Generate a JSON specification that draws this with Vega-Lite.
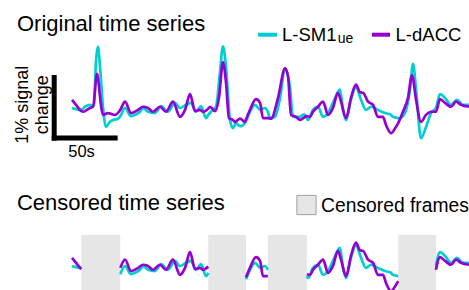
{
"$schema": "https://vega.github.io/schema/vega-lite/v6.json",
"width": 469, "height": 290, "padding": 0, "autosize": {"type": "none"},
"config": {"view": {"stroke": null}, "font": "Liberation Sans", "text": {"font": "Liberation Sans", "color": "#000"}},
"datasets": {
"ts": [
{"t":0,"region":"L-SM1","v":0,"seg":"A"},{"t":6.0,"region":"L-SM1","v":-0.03,"seg":"A"},{"t":7,"region":"L-SM1","v":-0.03,"seg":"A"},
{"t":9.8,"region":"L-SM1","v":0.02,"seg":"x"},{"t":13.6,"region":"L-SM1","v":0.05,"seg":"x"},{"t":16.6,"region":"L-SM1","v":0.03,"seg":"x"},{"t":18.1,"region":"L-SM1","v":0.73,"seg":"x"},{"t":19.6,"region":"L-SM1","v":0.97,"seg":"x"},{"t":21.2,"region":"L-SM1","v":0.65,"seg":"x"},{"t":23.4,"region":"L-SM1","v":0.02,"seg":"x"},{"t":25.7,"region":"L-SM1","v":-0.30,"seg":"x"},{"t":28.7,"region":"L-SM1","v":-0.22,"seg":"x"},{"t":31.0,"region":"L-SM1","v":-0.19,"seg":"x"},{"t":34.8,"region":"L-SM1","v":-0.17,"seg":"x"},
{"t":36.5,"region":"L-SM1","v":-0.13,"seg":"B"},{"t":40.1,"region":"L-SM1","v":0,"seg":"B"},{"t":44.6,"region":"L-SM1","v":-0.13,"seg":"B"},{"t":48.4,"region":"L-SM1","v":-0.10,"seg":"B"},{"t":51.4,"region":"L-SM1","v":-0.06,"seg":"B"},{"t":53.7,"region":"L-SM1","v":0,"seg":"B"},{"t":57.4,"region":"L-SM1","v":-0.06,"seg":"B"},{"t":62.7,"region":"L-SM1","v":-0.08,"seg":"B"},{"t":67.3,"region":"L-SM1","v":0.03,"seg":"B"},{"t":72.5,"region":"L-SM1","v":-0.06,"seg":"B"},{"t":77.8,"region":"L-SM1","v":0.08,"seg":"B"},{"t":81.6,"region":"L-SM1","v":0,"seg":"B"},{"t":86.1,"region":"L-SM1","v":0.05,"seg":"B"},{"t":89.9,"region":"L-SM1","v":0.08,"seg":"B"},{"t":93.7,"region":"L-SM1","v":-0.06,"seg":"B"},{"t":97.5,"region":"L-SM1","v":0.03,"seg":"B"},{"t":101.3,"region":"L-SM1","v":-0.16,"seg":"B"},{"t":103,"region":"L-SM1","v":-0.11,"seg":"B"},
{"t":105.0,"region":"L-SM1","v":-0.06,"seg":"x"},{"t":108.8,"region":"L-SM1","v":0.02,"seg":"x"},{"t":111.8,"region":"L-SM1","v":0.56,"seg":"x"},{"t":114.1,"region":"L-SM1","v":0.98,"seg":"x"},{"t":116.4,"region":"L-SM1","v":0.65,"seg":"x"},{"t":119.4,"region":"L-SM1","v":-0.19,"seg":"x"},{"t":121.7,"region":"L-SM1","v":-0.32,"seg":"x"},{"t":123.9,"region":"L-SM1","v":-0.24,"seg":"x"},{"t":127.0,"region":"L-SM1","v":-0.29,"seg":"x"},{"t":130.7,"region":"L-SM1","v":-0.24,"seg":"x"},
{"t":131.5,"region":"L-SM1","v":-0.21,"seg":"C"},{"t":134.5,"region":"L-SM1","v":-0.06,"seg":"C"},{"t":138.3,"region":"L-SM1","v":0.05,"seg":"C"},{"t":142.1,"region":"L-SM1","v":-0.03,"seg":"C"},{"t":145.8,"region":"L-SM1","v":0,"seg":"C"},{"t":148,"region":"L-SM1","v":-0.06,"seg":"C"},
{"t":149.6,"region":"L-SM1","v":-0.16,"seg":"x"},{"t":153.4,"region":"L-SM1","v":-0.14,"seg":"x"},{"t":157.2,"region":"L-SM1","v":0.16,"seg":"x"},{"t":161.0,"region":"L-SM1","v":0.63,"seg":"x"},{"t":164.7,"region":"L-SM1","v":0.33,"seg":"x"},{"t":167.0,"region":"L-SM1","v":-0.14,"seg":"x"},{"t":172.3,"region":"L-SM1","v":-0.14,"seg":"x"},{"t":175.3,"region":"L-SM1","v":-0.10,"seg":"x"},
{"t":177.5,"region":"L-SM1","v":-0.16,"seg":"D"},{"t":178.3,"region":"L-SM1","v":-0.19,"seg":"D"},{"t":182.1,"region":"L-SM1","v":-0.03,"seg":"D"},{"t":185.9,"region":"L-SM1","v":0.02,"seg":"D"},{"t":189.7,"region":"L-SM1","v":-0.14,"seg":"D"},{"t":193.5,"region":"L-SM1","v":-0.08,"seg":"D"},{"t":197.2,"region":"L-SM1","v":0.08,"seg":"D"},{"t":202.5,"region":"L-SM1","v":0.29,"seg":"D"},{"t":204.8,"region":"L-SM1","v":-0.03,"seg":"D"},{"t":207.1,"region":"L-SM1","v":-0.19,"seg":"D"},{"t":210.8,"region":"L-SM1","v":0.13,"seg":"D"},{"t":214.6,"region":"L-SM1","v":0.33,"seg":"D"},{"t":218.4,"region":"L-SM1","v":0.13,"seg":"D"},{"t":222.2,"region":"L-SM1","v":-0.03,"seg":"D"},{"t":226.0,"region":"L-SM1","v":0.02,"seg":"D"},{"t":231.2,"region":"L-SM1","v":-0.03,"seg":"D"},{"t":236.5,"region":"L-SM1","v":-0.08,"seg":"D"},{"t":240.3,"region":"L-SM1","v":-0.10,"seg":"D"},{"t":242.6,"region":"L-SM1","v":-0.14,"seg":"D"},{"t":246.5,"region":"L-SM1","v":-0.16,"seg":"D"},
{"t":247.9,"region":"L-SM1","v":-0.16,"seg":"x"},{"t":251.6,"region":"L-SM1","v":-0.08,"seg":"x"},{"t":255.4,"region":"L-SM1","v":0.29,"seg":"x"},{"t":257.7,"region":"L-SM1","v":0.70,"seg":"x"},{"t":260.0,"region":"L-SM1","v":0.29,"seg":"x"},{"t":263.7,"region":"L-SM1","v":-0.48,"seg":"x"},{"t":267.5,"region":"L-SM1","v":-0.30,"seg":"x"},{"t":271.3,"region":"L-SM1","v":-0.08,"seg":"x"},
{"t":275,"region":"L-SM1","v":0.0,"seg":"E"},{"t":278.1,"region":"L-SM1","v":0.22,"seg":"E"},{"t":281.9,"region":"L-SM1","v":0.16,"seg":"E"},{"t":286.4,"region":"L-SM1","v":0.05,"seg":"E"},{"t":290.9,"region":"L-SM1","v":0.13,"seg":"E"},{"t":295.4,"region":"L-SM1","v":0.05,"seg":"E"},{"t":300,"region":"L-SM1","v":0.05,"seg":"E"},
{"t":0,"region":"L-dACC","v":0.13,"seg":"A"},{"t":3.8,"region":"L-dACC","v":0.03,"seg":"A"},{"t":7,"region":"L-dACC","v":-0.05,"seg":"A"},
{"t":8.3,"region":"L-dACC","v":-0.06,"seg":"x"},{"t":13.6,"region":"L-dACC","v":0,"seg":"x"},{"t":15.9,"region":"L-dACC","v":0.02,"seg":"x"},{"t":18.9,"region":"L-dACC","v":0.54,"seg":"x"},{"t":21.9,"region":"L-dACC","v":0.05,"seg":"x"},{"t":23.4,"region":"L-dACC","v":-0.11,"seg":"x"},{"t":27.2,"region":"L-dACC","v":-0.08,"seg":"x"},{"t":32.5,"region":"L-dACC","v":-0.11,"seg":"x"},
{"t":36.5,"region":"L-dACC","v":-0.03,"seg":"B"},{"t":40.1,"region":"L-dACC","v":0.10,"seg":"B"},{"t":44.6,"region":"L-dACC","v":-0.08,"seg":"B"},{"t":49.9,"region":"L-dACC","v":-0.03,"seg":"B"},{"t":53.7,"region":"L-dACC","v":0.02,"seg":"B"},{"t":57.4,"region":"L-dACC","v":0,"seg":"B"},{"t":61.2,"region":"L-dACC","v":-0.06,"seg":"B"},{"t":66.5,"region":"L-dACC","v":0.02,"seg":"B"},{"t":71.0,"region":"L-dACC","v":-0.06,"seg":"B"},{"t":76.3,"region":"L-dACC","v":0.10,"seg":"B"},{"t":81.6,"region":"L-dACC","v":-0.14,"seg":"B"},{"t":85.4,"region":"L-dACC","v":-0.03,"seg":"B"},{"t":89.2,"region":"L-dACC","v":0.22,"seg":"B"},{"t":93.0,"region":"L-dACC","v":-0.05,"seg":"B"},{"t":96.7,"region":"L-dACC","v":-0.03,"seg":"B"},{"t":99.0,"region":"L-dACC","v":-0.06,"seg":"B"},{"t":103,"region":"L-dACC","v":-0.01,"seg":"B"},
{"t":104.3,"region":"L-dACC","v":0.02,"seg":"x"},{"t":108.1,"region":"L-dACC","v":-0.05,"seg":"x"},{"t":111.1,"region":"L-dACC","v":0.17,"seg":"x"},{"t":114.1,"region":"L-dACC","v":0.73,"seg":"x"},{"t":116.4,"region":"L-dACC","v":0.40,"seg":"x"},{"t":118.6,"region":"L-dACC","v":-0.16,"seg":"x"},{"t":121.7,"region":"L-dACC","v":-0.19,"seg":"x"},{"t":123.2,"region":"L-dACC","v":-0.22,"seg":"x"},{"t":127.0,"region":"L-dACC","v":-0.17,"seg":"x"},{"t":130.7,"region":"L-dACC","v":-0.22,"seg":"x"},
{"t":131.5,"region":"L-dACC","v":-0.18,"seg":"C"},{"t":134.5,"region":"L-dACC","v":-0.03,"seg":"C"},{"t":139.0,"region":"L-dACC","v":0.14,"seg":"C"},{"t":142.1,"region":"L-dACC","v":0.08,"seg":"C"},{"t":144.3,"region":"L-dACC","v":-0.16,"seg":"C"},{"t":148,"region":"L-dACC","v":-0.16,"seg":"C"},
{"t":150.4,"region":"L-dACC","v":-0.17,"seg":"x"},{"t":155.7,"region":"L-dACC","v":0.16,"seg":"x"},{"t":161.0,"region":"L-dACC","v":0.63,"seg":"x"},{"t":163.3,"region":"L-dACC","v":0.49,"seg":"x"},{"t":165.5,"region":"L-dACC","v":-0.11,"seg":"x"},{"t":169.3,"region":"L-dACC","v":-0.14,"seg":"x"},{"t":172.3,"region":"L-dACC","v":-0.19,"seg":"x"},
{"t":177.5,"region":"L-dACC","v":-0.13,"seg":"D"},{"t":179.9,"region":"L-dACC","v":-0.14,"seg":"D"},{"t":182.1,"region":"L-dACC","v":-0.06,"seg":"D"},{"t":185.9,"region":"L-dACC","v":0.02,"seg":"D"},{"t":189.7,"region":"L-dACC","v":0.10,"seg":"D"},{"t":193.5,"region":"L-dACC","v":-0.11,"seg":"D"},{"t":197.2,"region":"L-dACC","v":0,"seg":"D"},{"t":201.0,"region":"L-dACC","v":0.24,"seg":"D"},{"t":203.3,"region":"L-dACC","v":0.10,"seg":"D"},{"t":207.1,"region":"L-dACC","v":-0.16,"seg":"D"},{"t":210.8,"region":"L-dACC","v":0.16,"seg":"D"},{"t":214.6,"region":"L-dACC","v":0.37,"seg":"D"},{"t":217.6,"region":"L-dACC","v":0.25,"seg":"D"},{"t":219.9,"region":"L-dACC","v":0.24,"seg":"D"},{"t":223.7,"region":"L-dACC","v":0.10,"seg":"D"},{"t":227.5,"region":"L-dACC","v":0.05,"seg":"D"},{"t":231.2,"region":"L-dACC","v":-0.14,"seg":"D"},{"t":235.0,"region":"L-dACC","v":-0.14,"seg":"D"},{"t":237.3,"region":"L-dACC","v":-0.27,"seg":"D"},{"t":241.1,"region":"L-dACC","v":-0.40,"seg":"D"},{"t":244.8,"region":"L-dACC","v":-0.30,"seg":"D"},{"t":246.5,"region":"L-dACC","v":-0.24,"seg":"D"},
{"t":250.1,"region":"L-dACC","v":-0.06,"seg":"x"},{"t":253.9,"region":"L-dACC","v":0.16,"seg":"x"},{"t":256.9,"region":"L-dACC","v":0.52,"seg":"x"},{"t":260.0,"region":"L-dACC","v":0.13,"seg":"x"},{"t":263.7,"region":"L-dACC","v":-0.22,"seg":"x"},{"t":267.5,"region":"L-dACC","v":-0.11,"seg":"x"},{"t":271.3,"region":"L-dACC","v":-0.06,"seg":"x"},
{"t":275,"region":"L-dACC","v":-0.06,"seg":"E"},{"t":278.1,"region":"L-dACC","v":0.14,"seg":"E"},{"t":281.9,"region":"L-dACC","v":0.08,"seg":"E"},{"t":286.4,"region":"L-dACC","v":0.02,"seg":"E"},{"t":290.2,"region":"L-dACC","v":0.10,"seg":"E"},{"t":293.9,"region":"L-dACC","v":0.05,"seg":"E"},{"t":300,"region":"L-dACC","v":0.02,"seg":"E"}
],
"censor": [
{"start":7,"end":36.5},{"start":103,"end":131.5},{"start":148,"end":177.5},{"start":246.5,"end":275}
]
},
"resolve": {"scale": {"y": "independent"}},
"layer": [
{
"layer": [
{"data": {"name": "ts"},
 "mark": {"type": "line", "interpolate": "monotone", "strokeWidth": 2.7, "clip": true},
 "encoding": {
  "x": {"field": "t", "type": "quantitative", "scale": {"domain": [-54.4, 300], "nice": false, "zero": false}, "axis": null},
  "y": {"field": "v", "type": "quantitative", "scale": {"domain": [-2.889, 1.714], "nice": false, "zero": false}, "axis": null},
  "color": {"field": "region", "type": "nominal", "scale": {"domain": ["L-SM1", "L-dACC"], "range": ["#00CED1", "#9400D3"]}, "legend": null}
 }},
{"data": {"values": [{"scale": "1% signal change"}]},
 "mark": {"type": "rule", "strokeWidth": 5, "color": "#000"},
 "encoding": {
  "x": {"datum": -13.45, "type": "quantitative", "scale": {"domain": [-54.4, 300], "nice": false, "zero": false}, "axis": null},
  "y": {"datum": 0.524, "type": "quantitative", "scale": {"domain": [-2.889, 1.714], "nice": false, "zero": false}, "axis": null},
  "y2": {"datum": -0.519}
 }},
{"data": {"values": [{"scale": "50s"}]},
 "mark": {"type": "rule", "strokeWidth": 5, "color": "#000"},
 "encoding": {
  "x": {"datum": -15.3, "type": "quantitative", "scale": {"domain": [-54.4, 300], "nice": false, "zero": false}, "axis": null},
  "x2": {"datum": 34.5},
  "y": {"datum": -0.476, "type": "quantitative", "scale": {"domain": [-2.889, 1.714], "nice": false, "zero": false}, "axis": null}
 }},
{"data": {"values": [{"label": "1% signal", "at": -37.0}, {"label": "change", "at": -22.0}]},
 "mark": {"type": "text", "angle": 270, "fontSize": 18, "align": "center", "baseline": "middle"},
 "encoding": {
  "text": {"field": "label"},
  "x": {"field": "at", "type": "quantitative", "scale": {"domain": [-54.4, 300], "nice": false, "zero": false}, "axis": null},
  "y": {"datum": 0.05, "type": "quantitative", "scale": {"domain": [-2.889, 1.714], "nice": false, "zero": false}, "axis": null}
 }},
{"data": {"values": [{"label": "50s"}]},
 "mark": {"type": "text", "fontSize": 16.5, "align": "center", "baseline": "alphabetic"},
 "encoding": {
  "text": {"field": "label"},
  "x": {"datum": 7.2, "type": "quantitative", "scale": {"domain": [-54.4, 300], "nice": false, "zero": false}, "axis": null},
  "y": {"datum": -0.778, "type": "quantitative", "scale": {"domain": [-2.889, 1.714], "nice": false, "zero": false}, "axis": null}
 }},
{"data": {"values": [{"label": "Original time series"}]},
 "mark": {"type": "text", "fontSize": 22, "align": "left", "baseline": "alphabetic"},
 "encoding": {
  "text": {"field": "label"},
  "x": {"datum": -41.6, "type": "quantitative", "scale": {"domain": [-54.4, 300], "nice": false, "zero": false}, "axis": null},
  "y": {"datum": 1.222, "type": "quantitative", "scale": {"domain": [-2.889, 1.714], "nice": false, "zero": false}, "axis": null}
 }},
{"data": {"values": [{"region": "L-SM1", "from": 140.6, "to": 154.9}, {"region": "L-dACC", "from": 226.7, "to": 240.3}]},
 "mark": {"type": "rule", "strokeWidth": 4},
 "encoding": {
  "x": {"field": "from", "type": "quantitative", "scale": {"domain": [-54.4, 300], "nice": false, "zero": false}, "axis": null},
  "x2": {"field": "to"},
  "y": {"datum": 1.163, "type": "quantitative", "scale": {"domain": [-2.889, 1.714], "nice": false, "zero": false}, "axis": null},
  "color": {"field": "region", "type": "nominal", "legend": null}
 }},
{"data": {"values": [{"label": "L-SM1", "at": 158.7}, {"label": "L-dACC", "at": 244.5}]},
 "mark": {"type": "text", "fontSize": 18.5, "align": "left", "baseline": "alphabetic"},
 "encoding": {
  "text": {"field": "label"},
  "x": {"field": "at", "type": "quantitative", "scale": {"domain": [-54.4, 300], "nice": false, "zero": false}, "axis": null},
  "y": {"datum": 1.071, "type": "quantitative", "scale": {"domain": [-2.889, 1.714], "nice": false, "zero": false}, "axis": null}
 }},
{"data": {"values": [{"label": "ue"}]},
 "mark": {"type": "text", "fontSize": 14, "align": "left", "baseline": "alphabetic"},
 "encoding": {
  "text": {"field": "label"},
  "x": {"datum": 200.8, "type": "quantitative", "scale": {"domain": [-54.4, 300], "nice": false, "zero": false}, "axis": null},
  "y": {"datum": 1.027, "type": "quantitative", "scale": {"domain": [-2.889, 1.714], "nice": false, "zero": false}, "axis": null}
 }}
]
},
{
"layer": [
{"data": {"name": "censor"},
 "mark": {"type": "rect", "color": "#e6e6e6", "clip": true},
 "encoding": {
  "x": {"field": "start", "type": "quantitative", "scale": {"domain": [-54.4, 300], "nice": false, "zero": false}, "axis": null},
  "x2": {"field": "end"},
  "y": {"datum": 0.492, "type": "quantitative", "scale": {"domain": [-0.381, 4.222], "nice": false, "zero": false}, "axis": null},
  "y2": {"datum": -1}
 }},
{"data": {"name": "ts"},
 "transform": [{"filter": "datum.seg !== 'x'"}],
 "mark": {"type": "line", "interpolate": "monotone", "strokeWidth": 2.7, "clip": true},
 "encoding": {
  "x": {"field": "t", "type": "quantitative", "scale": {"domain": [-54.4, 300], "nice": false, "zero": false}, "axis": null},
  "y": {"field": "v", "type": "quantitative", "scale": {"domain": [-0.381, 4.222], "nice": false, "zero": false}, "axis": null},
  "color": {"field": "region", "type": "nominal", "legend": null},
  "detail": {"field": "seg", "type": "nominal"}
 }},
{"data": {"values": [{"label": "Censored time series"}]},
 "mark": {"type": "text", "fontSize": 22, "align": "left", "baseline": "alphabetic"},
 "encoding": {
  "text": {"field": "label"},
  "x": {"datum": -41.6, "type": "quantitative", "scale": {"domain": [-54.4, 300], "nice": false, "zero": false}, "axis": null},
  "y": {"datum": 0.889, "type": "quantitative", "scale": {"domain": [-0.381, 4.222], "nice": false, "zero": false}, "axis": null}
 }},
{"data": {"values": [{"label": "Censored frames"}]},
 "mark": {"type": "point", "shape": "square", "size": 370, "filled": true, "fill": "#e6e6e6", "stroke": "#a0a0a0", "strokeWidth": 1, "opacity": 1},
 "encoding": {
  "x": {"datum": 177.2, "type": "quantitative", "scale": {"domain": [-54.4, 300], "nice": false, "zero": false}, "axis": null},
  "y": {"datum": 0.968, "type": "quantitative", "scale": {"domain": [-0.381, 4.222], "nice": false, "zero": false}, "axis": null}
 }},
{"data": {"values": [{"label": "Censored frames"}]},
 "mark": {"type": "text", "fontSize": 19.3, "align": "left", "baseline": "alphabetic"},
 "encoding": {
  "text": {"field": "label"},
  "x": {"datum": 188.2, "type": "quantitative", "scale": {"domain": [-54.4, 300], "nice": false, "zero": false}, "axis": null},
  "y": {"datum": 0.857, "type": "quantitative", "scale": {"domain": [-0.381, 4.222], "nice": false, "zero": false}, "axis": null}
 }}
]
}
]
}
